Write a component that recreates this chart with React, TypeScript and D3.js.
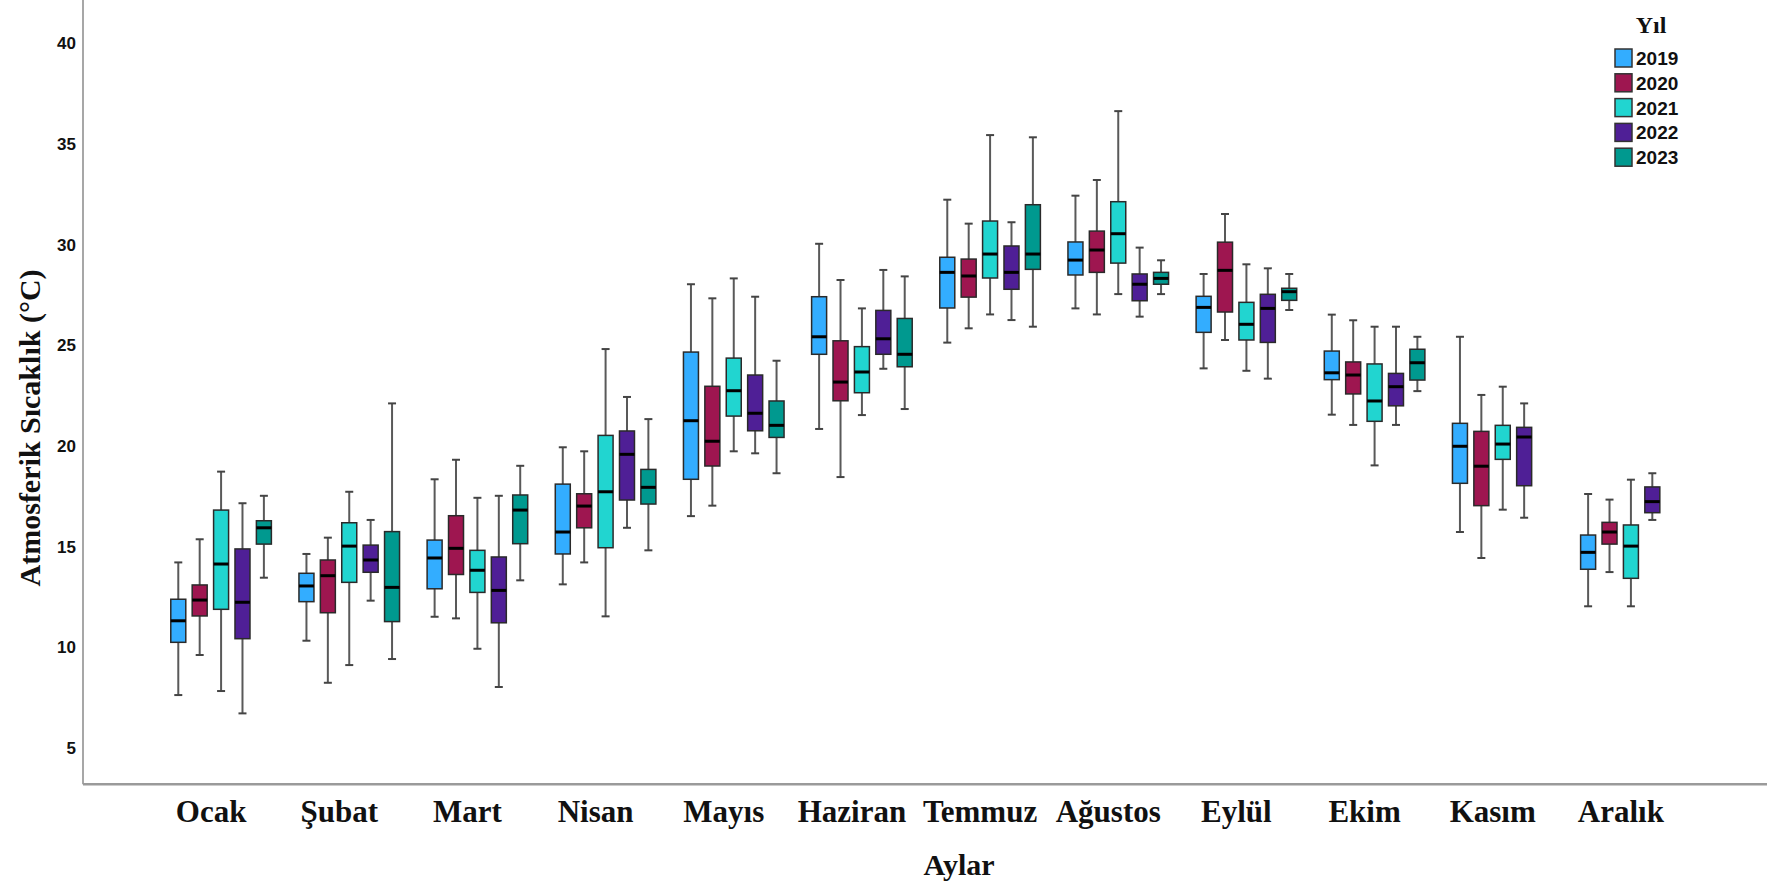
import React from "react";
import * as d3 from "d3";

const months = ["Ocak", "Şubat", "Mart", "Nisan", "Mayıs", "Haziran", "Temmuz", "Ağustos", "Eylül", "Ekim", "Kasım", "Aralık"];
const years = ["2019", "2020", "2021", "2022", "2023"];
const yTicks = [5, 10, 15, 20, 25, 30, 35, 40];

// [lower whisker, Q1, median, Q3, upper whisker] per month
const y2019: (number[] | null)[] = [
  [7.63, 10.25, 11.32, 12.39, 14.22],
  [10.33, 12.27, 13.05, 13.68, 14.64],
  [11.52, 12.91, 14.44, 15.33, 18.35],
  [13.13, 14.64, 15.73, 18.11, 19.94],
  [16.52, 18.35, 21.26, 24.67, 28.04],
  [20.85, 24.56, 25.43, 27.42, 30.05],
  [25.14, 26.86, 28.63, 29.38, 32.24],
  [26.84, 28.5, 29.24, 30.14, 32.44],
  [23.86, 25.65, 26.89, 27.44, 28.55],
  [21.56, 23.3, 23.64, 24.72, 26.53],
  [15.73, 18.15, 19.99, 21.13, 25.43],
  [12.04, 13.88, 14.72, 15.58, 17.62],
];
const y2020: (number[] | null)[] = [
  [9.62, 11.56, 12.35, 13.1, 15.37],
  [8.24, 11.72, 13.56, 14.34, 15.45],
  [11.44, 13.62, 14.92, 16.54, 19.32],
  [14.22, 15.94, 17.02, 17.63, 19.74],
  [17.04, 19.01, 20.24, 22.97, 27.34],
  [18.46, 22.25, 23.18, 25.23, 28.25],
  [25.85, 27.4, 28.45, 29.29, 31.05],
  [26.54, 28.63, 29.74, 30.68, 33.22],
  [25.27, 26.66, 28.73, 30.13, 31.53],
  [21.05, 22.59, 23.53, 24.18, 26.25],
  [14.44, 17.04, 19.0, 20.73, 22.54],
  [13.74, 15.13, 15.73, 16.21, 17.34],
];
const y2021: (number[] | null)[] = [
  [7.83, 11.89, 14.14, 16.82, 18.73],
  [9.12, 13.23, 15.03, 16.19, 17.73],
  [9.93, 12.73, 13.83, 14.82, 17.43],
  [11.54, 14.95, 17.73, 20.53, 24.82],
  [19.74, 21.49, 22.75, 24.37, 28.33],
  [21.54, 22.65, 23.68, 24.94, 26.84],
  [26.54, 28.35, 29.54, 31.18, 35.45],
  [27.55, 29.09, 30.55, 32.14, 36.64],
  [23.74, 25.27, 26.05, 27.14, 29.03],
  [19.04, 21.23, 22.24, 24.08, 25.93],
  [16.84, 19.34, 20.1, 21.03, 22.95],
  [12.04, 13.43, 15.03, 16.08, 18.33],
];
const y2022: (number[] | null)[] = [
  [6.72, 10.43, 12.24, 14.89, 17.16],
  [12.32, 13.73, 14.34, 15.08, 16.33],
  [8.03, 11.22, 12.83, 14.49, 17.53],
  [15.94, 17.32, 19.59, 20.75, 22.44],
  [19.64, 20.76, 21.63, 23.53, 27.42],
  [23.84, 24.56, 25.33, 26.74, 28.75],
  [26.26, 27.79, 28.63, 29.94, 31.12],
  [26.43, 27.22, 28.04, 28.55, 29.86],
  [23.35, 25.15, 26.84, 27.54, 28.83],
  [21.05, 22.0, 22.95, 23.61, 25.93],
  [16.44, 18.03, 20.45, 20.93, 22.12],
  [16.33, 16.69, 17.24, 17.97, 18.65],
];
const y2023: (number[] | null)[] = [
  [13.46, 15.13, 15.94, 16.29, 17.53],
  [9.42, 11.28, 12.98, 15.75, 22.12],
  [13.33, 15.15, 16.82, 17.57, 19.02],
  [14.82, 17.12, 17.95, 18.84, 21.34],
  [18.65, 20.43, 21.03, 22.24, 24.24],
  [21.84, 23.94, 24.56, 26.34, 28.43],
  [25.93, 28.78, 29.54, 31.99, 35.34],
  [27.55, 28.04, 28.33, 28.63, 29.23],
  [26.76, 27.24, 27.67, 27.84, 28.55],
  [22.73, 23.28, 24.14, 24.81, 25.43],
  null,
  null,
];

const seriesData = [y2019, y2020, y2021, y2022, y2023];
const colors = ["#33adff", "#9e1650", "#21d5d0", "#4f1f96", "#00998f"];

const W = 1767;
const H = 886;

export default function App() {
  const x = d3.scaleBand<string>().domain(months).range([157, 1695]).padding(0);
  const xs = d3.scalePoint<string>().domain(years).range([-42.8, 42.8]);
  const y = d3.scaleLinear().domain([5, 40]).range([748, 43.5]);
  const axisX = 83;
  const axisY = y(3.2);
  const boxW = 15;
  const capW = 8;

  return (
    <svg width={W} height={H} style={{ position: "absolute", left: 0, top: 0, background: "#fff" }}>
      <rect x={0} y={0} width={W} height={H} fill="#fff" />
      {/* axes */}
      <line x1={axisX} x2={axisX} y1={0} y2={axisY} stroke="#8a8a8a" strokeWidth={1.5} />
      <line x1={axisX} x2={W} y1={axisY} y2={axisY} stroke="#9a9a9a" strokeWidth={2.5} />
      {yTicks.map((t) => (
        <text key={t} x={76} y={y(t)} dy="0.35em" textAnchor="end"
          fontFamily="'Liberation Sans', Arial, sans-serif" fontWeight="bold" fontSize={17} fill="#111">
          {t}
        </text>
      ))}
      <text transform={`translate(40,${y(20.9)}) rotate(-90)`} textAnchor="middle"
        fontFamily="'Liberation Serif', 'Times New Roman', serif" fontWeight="bold" fontSize={30} fill="#111">
        Atmosferik Sıcaklık (°C)
      </text>
      {months.map((m) => (
        <text key={m} x={(x(m) as number) + x.bandwidth() / 2 - 10} y={822} textAnchor="middle"
          fontFamily="'Liberation Serif', 'Times New Roman', serif" fontWeight="bold" fontSize={31} fill="#111">
          {m}
        </text>
      ))}
      <text x={959} y={875} textAnchor="middle"
        fontFamily="'Liberation Serif', 'Times New Roman', serif" fontWeight="bold" fontSize={30} fill="#111">
        Aylar
      </text>

      {/* boxes */}
      {seriesData.map((series, si) =>
        series.map((d, mi) => {
          if (!d) return null;
          const cx = (x(months[mi]) as number) + x.bandwidth() / 2 + (xs(years[si]) as number);
          const [lo, q1, med, q3, hi] = d;
          return (
            <g key={`${si}-${mi}`}>
              <line x1={cx} x2={cx} y1={y(hi)} y2={y(q3)} stroke="#595959" strokeWidth={2} />
              <line x1={cx} x2={cx} y1={y(q1)} y2={y(lo)} stroke="#595959" strokeWidth={2} />
              <line x1={cx - capW / 2} x2={cx + capW / 2} y1={y(hi)} y2={y(hi)} stroke="#444" strokeWidth={2} />
              <line x1={cx - capW / 2} x2={cx + capW / 2} y1={y(lo)} y2={y(lo)} stroke="#444" strokeWidth={2} />
              <rect x={cx - boxW / 2} y={y(q3)} width={boxW} height={y(q1) - y(q3)}
                fill={colors[si]} stroke="#2a2a2a" strokeWidth={1.5} />
              <line x1={cx - boxW / 2} x2={cx + boxW / 2} y1={y(med)} y2={y(med)} stroke="#000" strokeWidth={3} />
            </g>
          );
        })
      )}

      {/* legend */}
      <text x={1651} y={33} textAnchor="middle"
        fontFamily="'Liberation Serif', 'Times New Roman', serif" fontWeight="bold" fontSize={24} fill="#111">
        Yıl
      </text>
      {years.map((yr, i) => (
        <g key={yr} transform={`translate(1615,${49 + i * 24.8})`}>
          <rect x={0} y={0} width={17} height={18} fill={colors[i]} stroke="#333" strokeWidth={1.5} />
          <text x={21} y={16} fontFamily="'Liberation Sans', Arial, sans-serif" fontWeight="bold" fontSize={19} fill="#111">
            {yr}
          </text>
        </g>
      ))}
    </svg>
  );
}
